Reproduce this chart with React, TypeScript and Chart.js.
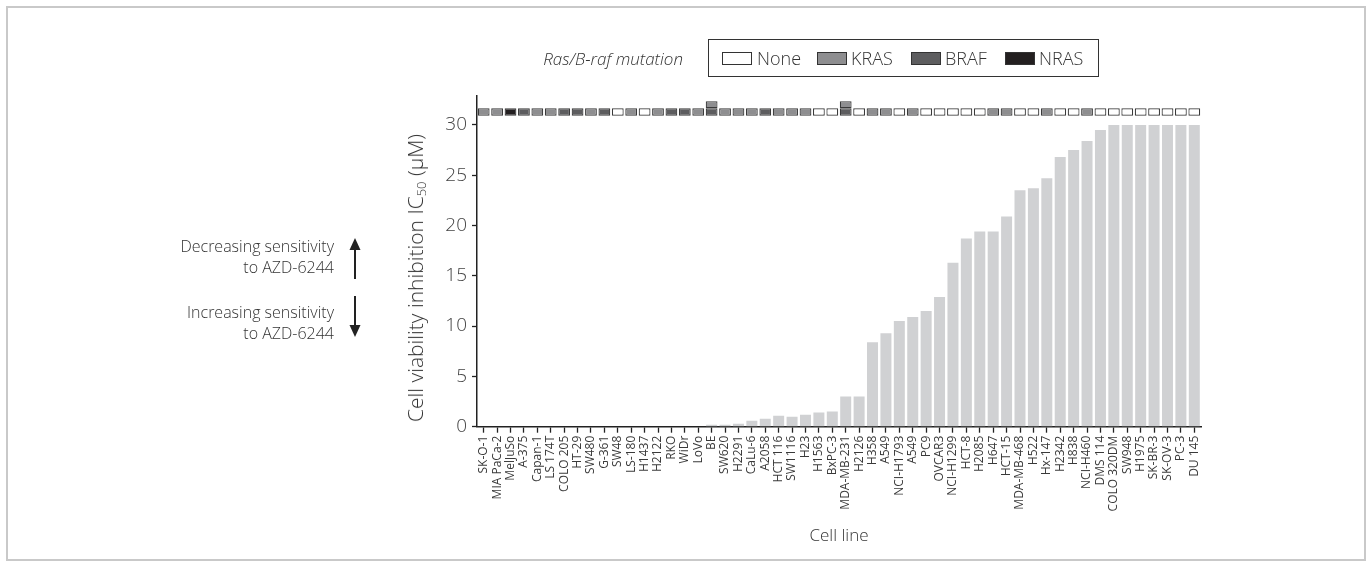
import React, { useEffect, useRef } from "react";
import { Chart, registerables } from "chart.js";

Chart.register(...registerables);

const cellLines = [
  "SK-O-1", "MIA PaCa-2", "MelJuSo", "A-375", "Capan-1", "LS 174T", "COLO 205", "HT-29", "SW480",
  "G-361", "SW48", "LS-180", "H1437", "H2122", "RKO", "WiDr", "LoVo", "BE", "SW620", "H2291",
  "CaLu-6", "A2058", "HCT 116", "SW1116", "H23", "H1563", "BxPC-3", "MDA-MB-231", "H2126", "H358",
  "A549", "NCI-H1793", "A549", "PC9", "OVCAR3", "NCI-H1299", "HCT-8", "H2085", "H647", "HCT-15",
  "MDA-MB-468", "H522", "Hx-147", "H2342", "H838", "NCI-H460", "DMS 114", "COLO 320DM", "SW948",
  "H1975", "SK-BR-3", "SK-OV-3", "PC-3", "DU 145",
];

const ic50Values = [
  0, 0, 0, 0, 0, 0, 0, 0, 0, 0, 0, 0, 0, 0, 0, 0, 0,
  0.2, 0.2, 0.3, 0.6, 0.8, 1.1, 1.0, 1.2, 1.4, 1.5, 3.0, 3.0,
  8.4, 9.3, 10.5, 10.9, 11.5, 12.9, 16.3, 18.7, 19.4, 19.4, 20.9,
  23.5, 23.7, 24.7, 26.8, 27.5, 28.4, 29.5,
  30, 30, 30, 30, 30, 30, 30,
];

const mutationPrimary = [
  "KRAS", "KRAS", "NRAS", "BRAF", "KRAS", "KRAS", "BRAF", "BRAF", "KRAS", "BRAF", "None", "KRAS",
  "None", "KRAS", "BRAF", "BRAF", "KRAS", "BRAF", "KRAS", "KRAS", "KRAS", "BRAF", "KRAS", "KRAS",
  "KRAS", "None", "None", "BRAF", "None", "KRAS", "KRAS", "None", "KRAS", "None", "None", "None",
  "None", "None", "KRAS", "KRAS", "None", "None", "KRAS", "None", "None", "KRAS", "None", "None",
  "None", "None", "None", "None", "None", "None",
];

const mutationSecondary: (string | null)[] = cellLines.map((c, i) =>
  i === 17 || i === 27 ? "KRAS" : null
);

const mutationTypes = ["None", "KRAS", "BRAF", "NRAS"];
const mutationColors: Record<string, string> = {
  None: "#ffffff",
  KRAS: "#8e8e90",
  BRAF: "#5d5d5f",
  NRAS: "#231f20",
};

const stripLower: [number, number] = [30.9, 31.65];
const stripUpper: [number, number] = [31.65, 32.35];
const yMax = 32.9;
const yStep = 5;

const FONT = "'Open Sans', 'DejaVu Sans', sans-serif";
const TEXT = "#333333";

// legend item left positions (swatch x, text x)
const legendSwatchX = [722, 817, 911, 1005];
const legendTextX = [757, 851, 945, 1039];

function Arrow({ x, y1, y2, up }: { x: number; y1: number; y2: number; up: boolean }) {
  const head = 12;
  const h = y2 - y1;
  return (
    <svg
      style={{ position: "absolute", left: x - 8, top: y1, overflow: "visible" }}
      width={16}
      height={h}
    >
      {up ? (
        <>
          <line x1={8} y1={head - 1} x2={8} y2={h} stroke="#222" strokeWidth={2} />
          <polygon points={`8,0 2.5,${head} 13.5,${head}`} fill="#222" />
        </>
      ) : (
        <>
          <line x1={8} y1={0} x2={8} y2={h - head + 1} stroke="#222" strokeWidth={2} />
          <polygon points={`8,${h} 2.5,${h - head} 13.5,${h - head}`} fill="#222" />
        </>
      )}
    </svg>
  );
}

const noteStyle: React.CSSProperties = {
  position: "absolute",
  right: 1372 - 334,
  textAlign: "right",
  fontFamily: FONT,
  fontWeight: 300,
  fontSize: 16,
  lineHeight: "21px",
  color: TEXT,
  whiteSpace: "nowrap",
};

export default function App() {
  const canvasRef = useRef<HTMLCanvasElement | null>(null);

  useEffect(() => {
    if (!canvasRef.current) return;
    const chart = new Chart(canvasRef.current, {
      type: "bar",
      data: {
        labels: cellLines,
        datasets: [
          {
            data: ic50Values,
            backgroundColor: "#d0d1d3",
            borderWidth: 0,
            barPercentage: 0.82,
            categoryPercentage: 1,
            grouped: false,
          } as any,
          {
            data: mutationPrimary.map(() => stripLower),
            backgroundColor: mutationPrimary.map((m) => mutationColors[m]),
            borderColor: "#3a3a3a",
            borderWidth: 1.2,
            borderSkipped: false,
            barPercentage: 0.88,
            categoryPercentage: 1,
            grouped: false,
          } as any,
          {
            data: mutationSecondary.map((m) => (m ? stripUpper : null)),
            backgroundColor: mutationSecondary.map((m) => (m ? mutationColors[m] : "rgba(0,0,0,0)")),
            borderColor: "#3a3a3a",
            borderWidth: 1.2,
            borderSkipped: false,
            barPercentage: 0.88,
            categoryPercentage: 1,
            grouped: false,
          } as any,
        ],
      },
      options: {
        responsive: false,
        maintainAspectRatio: false,
        animation: false,
        devicePixelRatio: 1,
        layout: { padding: { left: 400, right: 171, top: 95.7, bottom: 20.4 } },
        plugins: { legend: { display: false }, tooltip: { enabled: false } },
        scales: {
          x: {
            offset: true,
            grid: {
              display: true,
              drawOnChartArea: false,
              drawTicks: true,
              tickLength: 6,
              tickColor: "#222",
              tickWidth: 1.3,
              offset: false,
            },
            border: { display: true, color: "#222", width: 1.5 },
            ticks: {
              autoSkip: false,
              minRotation: 90,
              maxRotation: 90,
              padding: 3,
              color: "#3a3a3a",
              font: { family: FONT, size: 12, weight: "400" as any },
            },
            title: {
              display: true,
              text: "Cell line",
              color: TEXT,
              font: { family: FONT, size: 17, weight: "300" as any },
              padding: { top: 0, bottom: 0 },
            },
            afterFit: (s: any) => {
              s.height = 567 - 20.4 - 426.7;
            },
          },
          y: {
            min: 0,
            max: yMax,
            grid: {
              display: true,
              drawOnChartArea: false,
              drawTicks: true,
              tickLength: 5,
              tickColor: "#222",
              tickWidth: 1.3,
            },
            border: { display: true, color: "#222", width: 1.5 },
            ticks: {
              stepSize: yStep,
              includeBounds: false,
              padding: 5,
              color: "#444",
              font: { family: FONT, size: 19, weight: "300" as any },
            },
            title: { display: false },
            afterFit: (s: any) => {
              s.width = 477 - 400;
            },
          },
        },
      },
    });
    return () => chart.destroy();
  }, []);

  return (
    <>
      <div
        style={{
          position: "absolute",
          left: 6,
          top: 6,
          width: 1360,
          height: 555,
          boxSizing: "border-box",
          border: "2px solid #c9c9c9",
        }}
      />
      <canvas
        ref={canvasRef}
        width={1372}
        height={567}
        style={{ position: "absolute", left: 0, top: 0, width: 1372, height: 567 }}
      />
      {/* y-axis title */}
      <div
        style={{
          position: "absolute",
          left: 418,
          top: 278,
          transform: "translate(-50%, -50%) rotate(-90deg)",
          fontFamily: FONT,
          fontWeight: 300,
          fontSize: 21,
          color: TEXT,
          whiteSpace: "nowrap",
          lineHeight: "26px",
        }}
      >
        Cell viability inhibition IC<sub style={{ fontSize: 13, verticalAlign: "-3px" }}>50</sub> (μM)
      </div>
      {/* legend caption */}
      <div
        style={{
          position: "absolute",
          right: 1372 - 683,
          top: 47,
          fontFamily: FONT,
          fontStyle: "italic",
          fontWeight: 300,
          fontSize: 17,
          color: TEXT,
          whiteSpace: "nowrap",
        }}
      >
        Ras/B-raf mutation
      </div>
      {/* legend box */}
      <div
        style={{
          position: "absolute",
          left: 708,
          top: 39,
          width: 391,
          height: 38,
          boxSizing: "border-box",
          border: "1.5px solid #333",
        }}
      />
      {mutationTypes.map((m, i) => (
        <React.Fragment key={m}>
          <div
            style={{
              position: "absolute",
              left: legendSwatchX[i],
              top: 52,
              width: 30,
              height: 13,
              boxSizing: "border-box",
              border: "1.3px solid #333",
              background: mutationColors[m],
            }}
          />
          <div
            style={{
              position: "absolute",
              left: legendTextX[i],
              top: 46,
              fontFamily: FONT,
              fontWeight: 300,
              fontSize: 18,
              lineHeight: "24px",
              color: TEXT,
              whiteSpace: "nowrap",
            }}
          >
            {m}
          </div>
        </React.Fragment>
      ))}
      <div style={{ ...noteStyle, top: 236 }}>
        Decreasing sensitivity
        <br />
        to AZD-6244
      </div>
      <div style={{ ...noteStyle, top: 302 }}>
        Increasing sensitivity
        <br />
        to AZD-6244
      </div>
      <Arrow x={355} y1={238} y2={279} up={true} />
      <Arrow x={355} y1={296} y2={337} up={false} />
    </>
  );
}
